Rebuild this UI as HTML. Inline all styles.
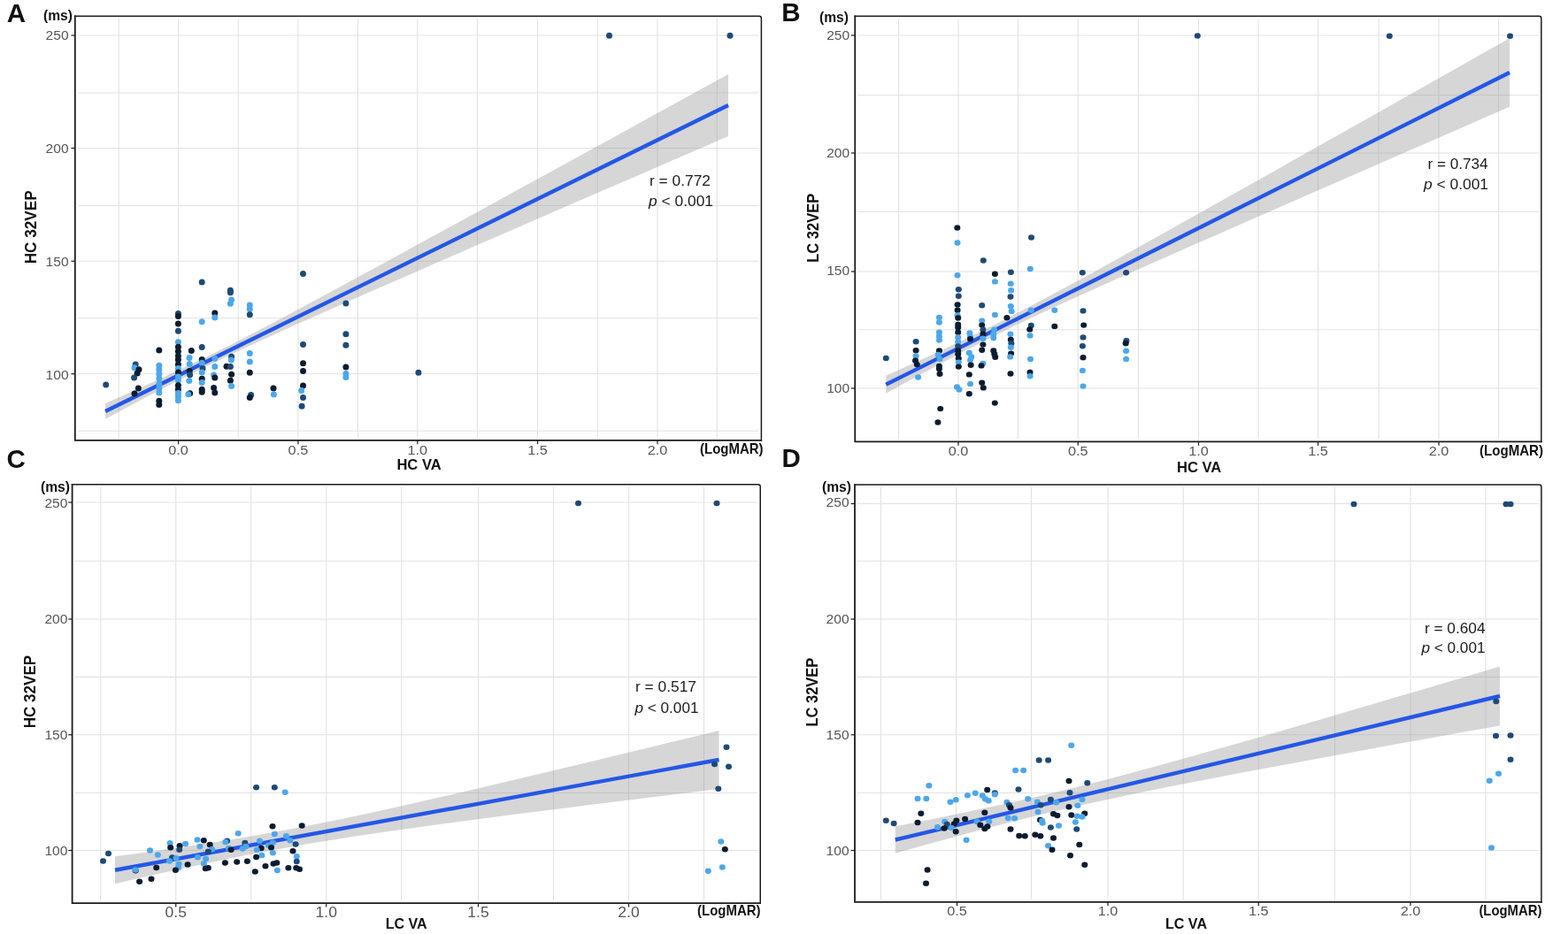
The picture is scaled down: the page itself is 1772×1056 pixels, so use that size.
<!DOCTYPE html>
<html lang="en"><head><meta charset="utf-8"><title>Figure</title>
<style>
html,body{margin:0;padding:0;background:#fff;}
body{width:1772px;height:1056px;overflow:hidden;}
svg{display:block;}
text{font-family:"Liberation Sans",Arial,Helvetica,sans-serif;}
.pl{font-weight:700;font-size:29.5px;fill:#111;}
.tk{font-size:14.3px;fill:#555555;}
.bt{font-weight:700;fill:#111;}
.st{fill:#1a1a1a;}
.g line{stroke:#e2e2e2;stroke-width:1.1;}
.dd{fill:#0b1c30;}.dm{fill:#1f4a75;}.dl{fill:#4da7ea;}
</style></head><body>
<svg width="1772" height="1056" viewBox="0 0 1772 1056">
<rect x="0" y="0" width="1772" height="1056" fill="#ffffff"/>
<g id="panel-A">
<rect x="84.8" y="18.3" width="775.6" height="479.5" fill="#fff"/>
<g class="g">
<line x1="134.2" y1="21.3" x2="134.2" y2="494.8"/>
<line x1="201.6" y1="21.3" x2="201.6" y2="494.8"/>
<line x1="269.2" y1="21.3" x2="269.2" y2="494.8"/>
<line x1="336.9" y1="21.3" x2="336.9" y2="494.8"/>
<line x1="404.4" y1="21.3" x2="404.4" y2="494.8"/>
<line x1="471.8" y1="21.3" x2="471.8" y2="494.8"/>
<line x1="539.5" y1="21.3" x2="539.5" y2="494.8"/>
<line x1="607.5" y1="21.3" x2="607.5" y2="494.8"/>
<line x1="675.3" y1="21.3" x2="675.3" y2="494.8"/>
<line x1="743" y1="21.3" x2="743" y2="494.8"/>
<line x1="810.3" y1="21.3" x2="810.3" y2="494.8"/>
<line x1="87.8" y1="40" x2="857.4" y2="40"/>
<line x1="87.8" y1="105" x2="857.4" y2="105"/>
<line x1="87.8" y1="167.5" x2="857.4" y2="167.5"/>
<line x1="87.8" y1="232.5" x2="857.4" y2="232.5"/>
<line x1="87.8" y1="295.25" x2="857.4" y2="295.25"/>
<line x1="87.8" y1="359.75" x2="857.4" y2="359.75"/>
<line x1="87.8" y1="422.75" x2="857.4" y2="422.75"/>
<line x1="87.8" y1="487.25" x2="857.4" y2="487.25"/>
</g>
<polygon fill="#999999" fill-opacity="0.4" points="119.1,456.24 148.43,443.11 177.76,429.77 207.09,416.09 236.42,401.93 265.75,387.24 295.07,372.07 324.4,356.58 353.73,340.87 383.06,325.03 412.39,309.11 441.72,293.13 471.05,277.12 500.38,261.08 529.71,245.02 559.04,228.94 588.37,212.85 617.7,196.76 647.02,180.66 676.35,164.55 705.68,148.43 735.01,132.32 764.34,116.2 793.67,100.07 823,83.95 823,154.05 793.67,166.76 764.34,179.47 735.01,192.18 705.68,204.9 676.35,217.62 647.02,230.34 617.7,243.08 588.37,255.81 559.04,268.56 529.71,281.32 500.38,294.09 471.05,306.88 441.72,319.7 412.39,332.56 383.06,345.47 353.73,358.46 324.4,371.59 295.07,384.93 265.75,398.59 236.42,412.73 207.09,427.41 177.76,442.57 148.43,458.06 119.1,473.76"/>
<line x1="119.1" y1="465" x2="823" y2="119" stroke="#2457e6" stroke-width="4.4"/>
<g class="d">
<ellipse class="dm" cx="688.5" cy="40.3" rx="3.5" ry="3.5"/>
<ellipse class="dm" cx="825" cy="40.3" rx="3.5" ry="3.5"/>
<ellipse class="dm" cx="119.7" cy="434.9" rx="3.5" ry="3.5"/>
<ellipse class="dm" cx="153.2" cy="412" rx="3.5" ry="3.5"/>
<ellipse class="dl" cx="152" cy="415.8" rx="3.5" ry="3.5"/>
<ellipse class="dd" cx="157" cy="417.7" rx="3.5" ry="3.5"/>
<ellipse class="dd" cx="155.1" cy="422.1" rx="3.5" ry="3.5"/>
<ellipse class="dm" cx="151.6" cy="427" rx="3.5" ry="3.5"/>
<ellipse class="dd" cx="156.4" cy="438.9" rx="3.5" ry="3.5"/>
<ellipse class="dd" cx="152" cy="444.9" rx="3.5" ry="3.5"/>
<ellipse class="dd" cx="179.8" cy="396" rx="3.5" ry="3.5"/>
<ellipse class="dl" cx="179.8" cy="413.3" rx="3.5" ry="3.5"/>
<ellipse class="dl" cx="179.8" cy="417.7" rx="3.5" ry="3.5"/>
<ellipse class="dl" cx="179.8" cy="422.7" rx="3.5" ry="3.5"/>
<ellipse class="dl" cx="179.8" cy="428" rx="3.5" ry="3.5"/>
<ellipse class="dl" cx="179.8" cy="433.9" rx="3.5" ry="3.5"/>
<ellipse class="dl" cx="179.8" cy="438.9" rx="3.5" ry="3.5"/>
<ellipse class="dl" cx="179.8" cy="443.9" rx="3.5" ry="3.5"/>
<ellipse class="dd" cx="179.8" cy="453.3" rx="3.5" ry="3.5"/>
<ellipse class="dd" cx="179.8" cy="457.4" rx="3.5" ry="3.5"/>
<ellipse class="dm" cx="201.4" cy="354.5" rx="3.5" ry="3.5"/>
<ellipse class="dd" cx="201.4" cy="357.6" rx="3.5" ry="3.5"/>
<ellipse class="dd" cx="201.4" cy="366" rx="3.5" ry="3.5"/>
<ellipse class="dm" cx="201.4" cy="374.2" rx="3.5" ry="3.5"/>
<ellipse class="dl" cx="201.4" cy="386.8" rx="3.5" ry="3.5"/>
<ellipse class="dd" cx="201.4" cy="392.3" rx="3.5" ry="3.5"/>
<ellipse class="dd" cx="201.4" cy="397.3" rx="3.5" ry="3.5"/>
<ellipse class="dd" cx="201.4" cy="402.4" rx="3.5" ry="3.5"/>
<ellipse class="dd" cx="201.4" cy="406.7" rx="3.5" ry="3.5"/>
<ellipse class="dd" cx="201.4" cy="412.1" rx="3.5" ry="3.5"/>
<ellipse class="dl" cx="201.4" cy="416.4" rx="3.5" ry="3.5"/>
<ellipse class="dd" cx="201.4" cy="420.9" rx="3.5" ry="3.5"/>
<ellipse class="dl" cx="201.4" cy="426" rx="3.5" ry="3.5"/>
<ellipse class="dl" cx="201.4" cy="430.1" rx="3.5" ry="3.5"/>
<ellipse class="dd" cx="201.4" cy="435.8" rx="3.5" ry="3.5"/>
<ellipse class="dd" cx="201.4" cy="440.2" rx="3.5" ry="3.5"/>
<ellipse class="dl" cx="201.4" cy="444.5" rx="3.5" ry="3.5"/>
<ellipse class="dl" cx="201.4" cy="448.3" rx="3.5" ry="3.5"/>
<ellipse class="dl" cx="201.4" cy="452.7" rx="3.5" ry="3.5"/>
<ellipse class="dd" cx="216.3" cy="396.6" rx="3.5" ry="3.5"/>
<ellipse class="dl" cx="214" cy="404.5" rx="3.5" ry="3.5"/>
<ellipse class="dl" cx="214.2" cy="411.4" rx="3.5" ry="3.5"/>
<ellipse class="dd" cx="214.2" cy="419.6" rx="3.5" ry="3.5"/>
<ellipse class="dm" cx="214.6" cy="423.7" rx="3.5" ry="3.5"/>
<ellipse class="dl" cx="213.8" cy="430.5" rx="3.5" ry="3.5"/>
<ellipse class="dd" cx="214.6" cy="444.8" rx="3.5" ry="3.5"/>
<ellipse class="dl" cx="212.8" cy="445.8" rx="3.5" ry="3.5"/>
<ellipse class="dm" cx="228.2" cy="319" rx="3.5" ry="3.5"/>
<ellipse class="dl" cx="228.2" cy="363.7" rx="3.5" ry="3.5"/>
<ellipse class="dm" cx="228.2" cy="392.4" rx="3.5" ry="3.5"/>
<ellipse class="dd" cx="228.2" cy="406.4" rx="3.5" ry="3.5"/>
<ellipse class="dl" cx="228.2" cy="410.2" rx="3.5" ry="3.5"/>
<ellipse class="dm" cx="229" cy="416.4" rx="3.5" ry="3.5"/>
<ellipse class="dl" cx="228.2" cy="420.9" rx="3.5" ry="3.5"/>
<ellipse class="dd" cx="228.2" cy="428.3" rx="3.5" ry="3.5"/>
<ellipse class="dl" cx="228.2" cy="432.6" rx="3.5" ry="3.5"/>
<ellipse class="dd" cx="228.2" cy="440.2" rx="3.5" ry="3.5"/>
<ellipse class="dd" cx="228.2" cy="443.3" rx="3.5" ry="3.5"/>
<ellipse class="dd" cx="242.8" cy="354.1" rx="3.5" ry="3.5"/>
<ellipse class="dl" cx="242.8" cy="359.1" rx="3.5" ry="3.5"/>
<ellipse class="dl" cx="242.8" cy="405.2" rx="3.5" ry="3.5"/>
<ellipse class="dl" cx="242.8" cy="414.6" rx="3.5" ry="3.5"/>
<ellipse class="dl" cx="241.6" cy="424" rx="3.5" ry="3.5"/>
<ellipse class="dd" cx="242.8" cy="426.9" rx="3.5" ry="3.5"/>
<ellipse class="dd" cx="241.6" cy="438.6" rx="3.5" ry="3.5"/>
<ellipse class="dd" cx="242.8" cy="443.9" rx="3.5" ry="3.5"/>
<ellipse class="dm" cx="260.4" cy="328.2" rx="3.5" ry="3.5"/>
<ellipse class="dm" cx="260.4" cy="330.7" rx="3.5" ry="3.5"/>
<ellipse class="dl" cx="261.6" cy="339.1" rx="3.5" ry="3.5"/>
<ellipse class="dl" cx="260.4" cy="343.2" rx="3.5" ry="3.5"/>
<ellipse class="dm" cx="261.6" cy="403.3" rx="3.5" ry="3.5"/>
<ellipse class="dl" cx="261.4" cy="407" rx="3.5" ry="3.5"/>
<ellipse class="dd" cx="256" cy="414.2" rx="3.5" ry="3.5"/>
<ellipse class="dm" cx="260.4" cy="414.6" rx="3.5" ry="3.5"/>
<ellipse class="dd" cx="261.6" cy="423.3" rx="3.5" ry="3.5"/>
<ellipse class="dd" cx="260.4" cy="430.2" rx="3.5" ry="3.5"/>
<ellipse class="dl" cx="261.6" cy="436.4" rx="3.5" ry="3.5"/>
<ellipse class="dl" cx="282.3" cy="345.1" rx="3.5" ry="3.5"/>
<ellipse class="dl" cx="282.3" cy="349.5" rx="3.5" ry="3.5"/>
<ellipse class="dm" cx="282.3" cy="355.8" rx="3.5" ry="3.5"/>
<ellipse class="dl" cx="282.3" cy="399.5" rx="3.5" ry="3.5"/>
<ellipse class="dl" cx="282.3" cy="408.9" rx="3.5" ry="3.5"/>
<ellipse class="dd" cx="282.3" cy="421.2" rx="3.5" ry="3.5"/>
<ellipse class="dm" cx="283.6" cy="446.4" rx="3.5" ry="3.5"/>
<ellipse class="dd" cx="282.3" cy="449.5" rx="3.5" ry="3.5"/>
<ellipse class="dd" cx="309" cy="438.9" rx="3.5" ry="3.5"/>
<ellipse class="dl" cx="309.4" cy="445.9" rx="3.5" ry="3.5"/>
<ellipse class="dm" cx="342.5" cy="309.4" rx="3.5" ry="3.5"/>
<ellipse class="dm" cx="342.5" cy="389.5" rx="3.5" ry="3.5"/>
<ellipse class="dd" cx="342.5" cy="410.7" rx="3.5" ry="3.5"/>
<ellipse class="dd" cx="342.5" cy="419.4" rx="3.5" ry="3.5"/>
<ellipse class="dd" cx="342.5" cy="436.1" rx="3.5" ry="3.5"/>
<ellipse class="dl" cx="340.7" cy="441.4" rx="3.5" ry="3.5"/>
<ellipse class="dm" cx="342.5" cy="449.5" rx="3.5" ry="3.5"/>
<ellipse class="dm" cx="341.1" cy="459.2" rx="3.5" ry="3.5"/>
<ellipse class="dm" cx="390.9" cy="343" rx="3.5" ry="3.5"/>
<ellipse class="dm" cx="390.9" cy="377.7" rx="3.5" ry="3.5"/>
<ellipse class="dm" cx="390.9" cy="390.2" rx="3.5" ry="3.5"/>
<ellipse class="dd" cx="390.9" cy="415.1" rx="3.5" ry="3.5"/>
<ellipse class="dl" cx="390.9" cy="422.4" rx="3.5" ry="3.5"/>
<ellipse class="dl" cx="390.9" cy="426.6" rx="3.5" ry="3.5"/>
<ellipse class="dm" cx="472.9" cy="421.2" rx="3.5" ry="3.5"/>
</g>
<path d="M83.9 18.3 H857.9 Q860.4 18.3 860.4 20.8 V498.7" fill="none" stroke="#1c1c1c" stroke-width="1.5" stroke-linejoin="miter"/>
<path d="M84.8 17.55 V497.8 H861.15" fill="none" stroke="#1c1c1c" stroke-width="1.8" stroke-linejoin="miter"/>
<line x1="80.4" y1="40" x2="84.8" y2="40" stroke="#1c1c1c" stroke-width="1.2"/>
<text class="tk" x="77.6" y="45.4" text-anchor="end" textLength="26" lengthAdjust="spacingAndGlyphs">250</text>
<line x1="80.4" y1="167.5" x2="84.8" y2="167.5" stroke="#1c1c1c" stroke-width="1.2"/>
<text class="tk" x="77.6" y="173.15" text-anchor="end" textLength="26" lengthAdjust="spacingAndGlyphs">200</text>
<line x1="80.4" y1="295.25" x2="84.8" y2="295.25" stroke="#1c1c1c" stroke-width="1.2"/>
<text class="tk" x="77.6" y="300.9" text-anchor="end" textLength="26" lengthAdjust="spacingAndGlyphs">150</text>
<line x1="80.4" y1="422.75" x2="84.8" y2="422.75" stroke="#1c1c1c" stroke-width="1.2"/>
<text class="tk" x="77.6" y="428.65" text-anchor="end" textLength="26" lengthAdjust="spacingAndGlyphs">100</text>
<line x1="201.6" y1="497.8" x2="201.6" y2="502.2" stroke="#1c1c1c" stroke-width="1.2"/>
<text class="tk" x="201.6" y="513.6" text-anchor="middle" font-size="14.3" style="font-size:14.3px" textLength="22.6" lengthAdjust="spacingAndGlyphs">0.0</text>
<line x1="336.9" y1="497.8" x2="336.9" y2="502.2" stroke="#1c1c1c" stroke-width="1.2"/>
<text class="tk" x="336.9" y="513.6" text-anchor="middle" font-size="14.3" style="font-size:14.3px" textLength="22.6" lengthAdjust="spacingAndGlyphs">0.5</text>
<line x1="471.8" y1="497.8" x2="471.8" y2="502.2" stroke="#1c1c1c" stroke-width="1.2"/>
<text class="tk" x="471.8" y="513.6" text-anchor="middle" font-size="14.3" style="font-size:14.3px" textLength="22.6" lengthAdjust="spacingAndGlyphs">1.0</text>
<line x1="607.5" y1="497.8" x2="607.5" y2="502.2" stroke="#1c1c1c" stroke-width="1.2"/>
<text class="tk" x="607.5" y="513.6" text-anchor="middle" font-size="14.3" style="font-size:14.3px" textLength="22.6" lengthAdjust="spacingAndGlyphs">1.5</text>
<line x1="743" y1="497.8" x2="743" y2="502.2" stroke="#1c1c1c" stroke-width="1.2"/>
<text class="tk" x="743" y="513.6" text-anchor="middle" font-size="14.3" style="font-size:14.3px" textLength="22.6" lengthAdjust="spacingAndGlyphs">2.0</text>
<text class="pl" x="7.8" y="24.8">A</text>
<text class="bt" x="49" y="23.1" font-size="16" textLength="33" lengthAdjust="spacingAndGlyphs">(ms)</text>
<text class="bt" x="41.4" y="298.3" font-size="17.9" textLength="83" lengthAdjust="spacingAndGlyphs" transform="rotate(-90 41.4 298.3)">HC 32VEP</text>
<text class="bt" x="448.4" y="530.7" font-size="16.4" textLength="50.3" lengthAdjust="spacingAndGlyphs">HC VA</text>
<text class="bt" x="791" y="513.1" font-size="16.2" textLength="71.5" lengthAdjust="spacingAndGlyphs">(LogMAR)</text>
<text class="st" x="734" y="209.5" font-size="16" textLength="69" lengthAdjust="spacingAndGlyphs">r = 0.772</text>
<text class="st" x="733" y="233" font-size="16" textLength="73" lengthAdjust="spacingAndGlyphs"><tspan font-style="italic">p</tspan> &lt; 0.001</text>
</g>
<g id="panel-B">
<rect x="966.25" y="18.3" width="775.55" height="481.1" fill="#fff"/>
<g class="g">
<line x1="1015.5" y1="21.3" x2="1015.5" y2="496.4"/>
<line x1="1083" y1="21.3" x2="1083" y2="496.4"/>
<line x1="1150.5" y1="21.3" x2="1150.5" y2="496.4"/>
<line x1="1218.25" y1="21.3" x2="1218.25" y2="496.4"/>
<line x1="1286.4" y1="21.3" x2="1286.4" y2="496.4"/>
<line x1="1354.5" y1="21.3" x2="1354.5" y2="496.4"/>
<line x1="1422" y1="21.3" x2="1422" y2="496.4"/>
<line x1="1489.5" y1="21.3" x2="1489.5" y2="496.4"/>
<line x1="1558" y1="21.3" x2="1558" y2="496.4"/>
<line x1="1626" y1="21.3" x2="1626" y2="496.4"/>
<line x1="1693.5" y1="21.3" x2="1693.5" y2="496.4"/>
<line x1="969.25" y1="40" x2="1738.8" y2="40"/>
<line x1="969.25" y1="107.5" x2="1738.8" y2="107.5"/>
<line x1="969.25" y1="173" x2="1738.8" y2="173"/>
<line x1="969.25" y1="239.5" x2="1738.8" y2="239.5"/>
<line x1="969.25" y1="307" x2="1738.8" y2="307"/>
<line x1="969.25" y1="372.75" x2="1738.8" y2="372.75"/>
<line x1="969.25" y1="439" x2="1738.8" y2="439"/>
</g>
<polygon fill="#999999" fill-opacity="0.4" points="1001.25,424.72 1030.61,411.45 1059.98,397.96 1089.34,384.11 1118.71,369.76 1148.07,354.82 1177.44,339.36 1206.8,323.52 1236.17,307.43 1265.53,291.19 1294.9,274.84 1324.26,258.42 1353.62,241.96 1382.99,225.47 1412.35,208.95 1441.72,192.42 1471.08,175.87 1500.45,159.31 1529.81,142.74 1559.18,126.17 1588.54,109.58 1617.91,93 1647.27,76.41 1676.64,59.82 1706,43.22 1706,120.78 1676.64,133.58 1647.27,146.38 1617.91,159.19 1588.54,172 1559.18,184.81 1529.81,197.63 1500.45,210.46 1471.08,223.3 1441.72,236.15 1412.35,249.01 1382.99,261.89 1353.62,274.79 1324.26,287.72 1294.9,300.7 1265.53,313.75 1236.17,326.9 1206.8,340.21 1177.44,353.76 1148.07,367.7 1118.71,382.16 1089.34,397.21 1059.98,412.75 1030.61,428.65 1001.25,444.78"/>
<line x1="1001.25" y1="434.75" x2="1706" y2="82" stroke="#2457e6" stroke-width="4.4"/>
<g class="d">
<ellipse class="dm" cx="1353.3" cy="40.5" rx="3.5" ry="3.2"/>
<ellipse class="dm" cx="1570.3" cy="40.8" rx="3.5" ry="3.2"/>
<ellipse class="dm" cx="1706.5" cy="40.8" rx="3.5" ry="3.2"/>
<ellipse class="dm" cx="1001.3" cy="404.9" rx="3.5" ry="3.2"/>
<ellipse class="dm" cx="1035.1" cy="386.2" rx="3.5" ry="3.2"/>
<ellipse class="dd" cx="1035.1" cy="396.2" rx="3.5" ry="3.2"/>
<ellipse class="dl" cx="1035.1" cy="402.7" rx="3.5" ry="3.2"/>
<ellipse class="dd" cx="1034.5" cy="407.7" rx="3.5" ry="3.2"/>
<ellipse class="dd" cx="1036.3" cy="412.1" rx="3.5" ry="3.2"/>
<ellipse class="dl" cx="1037.6" cy="426.5" rx="3.5" ry="3.2"/>
<ellipse class="dl" cx="1061.4" cy="358.9" rx="3.5" ry="3.2"/>
<ellipse class="dl" cx="1061.4" cy="364.5" rx="3.5" ry="3.2"/>
<ellipse class="dl" cx="1061.4" cy="375.8" rx="3.5" ry="3.2"/>
<ellipse class="dl" cx="1061.4" cy="380.2" rx="3.5" ry="3.2"/>
<ellipse class="dl" cx="1061.4" cy="384.6" rx="3.5" ry="3.2"/>
<ellipse class="dd" cx="1061.4" cy="396.5" rx="3.5" ry="3.2"/>
<ellipse class="dl" cx="1060.2" cy="400.9" rx="3.5" ry="3.2"/>
<ellipse class="dl" cx="1062" cy="405.9" rx="3.5" ry="3.2"/>
<ellipse class="dd" cx="1061.4" cy="414" rx="3.5" ry="3.2"/>
<ellipse class="dd" cx="1061.4" cy="417.1" rx="3.5" ry="3.2"/>
<ellipse class="dd" cx="1062" cy="422.8" rx="3.5" ry="3.2"/>
<ellipse class="dd" cx="1062.7" cy="462.1" rx="3.5" ry="3.2"/>
<ellipse class="dd" cx="1059.9" cy="477.5" rx="3.5" ry="3.2"/>
<ellipse class="dd" cx="1081.8" cy="257.5" rx="3.5" ry="3.2"/>
<ellipse class="dl" cx="1082" cy="274.5" rx="3.5" ry="3.2"/>
<ellipse class="dl" cx="1082" cy="311.2" rx="3.5" ry="3.2"/>
<ellipse class="dm" cx="1083.3" cy="327.2" rx="3.5" ry="3.2"/>
<ellipse class="dm" cx="1083.3" cy="334.8" rx="3.5" ry="3.2"/>
<ellipse class="dd" cx="1082.1" cy="344.5" rx="3.5" ry="3.2"/>
<ellipse class="dd" cx="1082.1" cy="350.7" rx="3.5" ry="3.2"/>
<ellipse class="dl" cx="1082.1" cy="356.4" rx="3.5" ry="3.2"/>
<ellipse class="dd" cx="1082.7" cy="359.5" rx="3.5" ry="3.2"/>
<ellipse class="dd" cx="1082.7" cy="367" rx="3.5" ry="3.2"/>
<ellipse class="dd" cx="1082.7" cy="370.2" rx="3.5" ry="3.2"/>
<ellipse class="dd" cx="1082.7" cy="375.8" rx="3.5" ry="3.2"/>
<ellipse class="dl" cx="1082.7" cy="381.4" rx="3.5" ry="3.2"/>
<ellipse class="dl" cx="1082.7" cy="386.4" rx="3.5" ry="3.2"/>
<ellipse class="dm" cx="1082.7" cy="391.5" rx="3.5" ry="3.2"/>
<ellipse class="dd" cx="1082.7" cy="396.5" rx="3.5" ry="3.2"/>
<ellipse class="dd" cx="1082.7" cy="400.2" rx="3.5" ry="3.2"/>
<ellipse class="dd" cx="1083.3" cy="405.2" rx="3.5" ry="3.2"/>
<ellipse class="dl" cx="1083.3" cy="409.6" rx="3.5" ry="3.2"/>
<ellipse class="dd" cx="1083.3" cy="414.6" rx="3.5" ry="3.2"/>
<ellipse class="dl" cx="1081.5" cy="437.5" rx="3.5" ry="3.2"/>
<ellipse class="dl" cx="1083.9" cy="440.5" rx="3.5" ry="3.2"/>
<ellipse class="dl" cx="1095.9" cy="376.4" rx="3.5" ry="3.2"/>
<ellipse class="dl" cx="1096.5" cy="380.8" rx="3.5" ry="3.2"/>
<ellipse class="dd" cx="1096.5" cy="383.3" rx="3.5" ry="3.2"/>
<ellipse class="dl" cx="1095.3" cy="399" rx="3.5" ry="3.2"/>
<ellipse class="dl" cx="1097.8" cy="403.4" rx="3.5" ry="3.2"/>
<ellipse class="dl" cx="1096.5" cy="407.1" rx="3.5" ry="3.2"/>
<ellipse class="dd" cx="1097.1" cy="412.8" rx="3.5" ry="3.2"/>
<ellipse class="dd" cx="1095.3" cy="423.4" rx="3.5" ry="3.2"/>
<ellipse class="dl" cx="1096.5" cy="434.1" rx="3.5" ry="3.2"/>
<ellipse class="dd" cx="1095.3" cy="445.2" rx="3.5" ry="3.2"/>
<ellipse class="dm" cx="1111.3" cy="294.5" rx="3.5" ry="3.2"/>
<ellipse class="dm" cx="1109.7" cy="345.3" rx="3.5" ry="3.2"/>
<ellipse class="dl" cx="1109.7" cy="362.6" rx="3.5" ry="3.2"/>
<ellipse class="dd" cx="1109.7" cy="367.6" rx="3.5" ry="3.2"/>
<ellipse class="dm" cx="1110.9" cy="372.7" rx="3.5" ry="3.2"/>
<ellipse class="dd" cx="1110.9" cy="377.7" rx="3.5" ry="3.2"/>
<ellipse class="dl" cx="1110.9" cy="382.7" rx="3.5" ry="3.2"/>
<ellipse class="dd" cx="1110.9" cy="389.6" rx="3.5" ry="3.2"/>
<ellipse class="dd" cx="1109.7" cy="395.8" rx="3.5" ry="3.2"/>
<ellipse class="dl" cx="1110.9" cy="410.9" rx="3.5" ry="3.2"/>
<ellipse class="dd" cx="1109" cy="413.4" rx="3.5" ry="3.2"/>
<ellipse class="dd" cx="1109.7" cy="432.7" rx="3.5" ry="3.2"/>
<ellipse class="dd" cx="1111.3" cy="438.4" rx="3.5" ry="3.2"/>
<ellipse class="dd" cx="1124.4" cy="309.7" rx="3.5" ry="3.2"/>
<ellipse class="dl" cx="1124.4" cy="318.4" rx="3.5" ry="3.2"/>
<ellipse class="dl" cx="1124.4" cy="356" rx="3.5" ry="3.2"/>
<ellipse class="dl" cx="1123.5" cy="372.7" rx="3.5" ry="3.2"/>
<ellipse class="dl" cx="1122.8" cy="377.7" rx="3.5" ry="3.2"/>
<ellipse class="dl" cx="1122.8" cy="382.1" rx="3.5" ry="3.2"/>
<ellipse class="dd" cx="1122.8" cy="396.5" rx="3.5" ry="3.2"/>
<ellipse class="dd" cx="1123.8" cy="400.2" rx="3.5" ry="3.2"/>
<ellipse class="dd" cx="1124.7" cy="403.7" rx="3.5" ry="3.2"/>
<ellipse class="dd" cx="1124.3" cy="455.6" rx="3.5" ry="3.2"/>
<ellipse class="dm" cx="1142.4" cy="307.8" rx="3.5" ry="3.2"/>
<ellipse class="dl" cx="1142.2" cy="320.7" rx="3.5" ry="3.2"/>
<ellipse class="dl" cx="1142.6" cy="328.3" rx="3.5" ry="3.2"/>
<ellipse class="dm" cx="1142" cy="335.5" rx="3.5" ry="3.2"/>
<ellipse class="dl" cx="1142.3" cy="346.3" rx="3.5" ry="3.2"/>
<ellipse class="dl" cx="1143.1" cy="352" rx="3.5" ry="3.2"/>
<ellipse class="dd" cx="1137.9" cy="359.2" rx="3.5" ry="3.2"/>
<ellipse class="dl" cx="1141.9" cy="377.7" rx="3.5" ry="3.2"/>
<ellipse class="dd" cx="1142.3" cy="383.9" rx="3.5" ry="3.2"/>
<ellipse class="dm" cx="1142.9" cy="388.3" rx="3.5" ry="3.2"/>
<ellipse class="dl" cx="1142.3" cy="392.7" rx="3.5" ry="3.2"/>
<ellipse class="dd" cx="1142.6" cy="399.6" rx="3.5" ry="3.2"/>
<ellipse class="dl" cx="1141.6" cy="403.4" rx="3.5" ry="3.2"/>
<ellipse class="dd" cx="1142" cy="422.5" rx="3.5" ry="3.2"/>
<ellipse class="dm" cx="1165.5" cy="268.5" rx="3.5" ry="3.2"/>
<ellipse class="dl" cx="1164.3" cy="304" rx="3.5" ry="3.2"/>
<ellipse class="dl" cx="1165.2" cy="350.7" rx="3.5" ry="3.2"/>
<ellipse class="dm" cx="1165.3" cy="367.9" rx="3.5" ry="3.2"/>
<ellipse class="dd" cx="1163.7" cy="372.4" rx="3.5" ry="3.2"/>
<ellipse class="dl" cx="1164.1" cy="379.4" rx="3.5" ry="3.2"/>
<ellipse class="dl" cx="1164.5" cy="405.9" rx="3.5" ry="3.2"/>
<ellipse class="dd" cx="1164" cy="420.9" rx="3.5" ry="3.2"/>
<ellipse class="dl" cx="1164.1" cy="425.3" rx="3.5" ry="3.2"/>
<ellipse class="dl" cx="1191.8" cy="350.7" rx="3.5" ry="3.2"/>
<ellipse class="dd" cx="1191.8" cy="368.9" rx="3.5" ry="3.2"/>
<ellipse class="dm" cx="1223.3" cy="308.3" rx="3.5" ry="3.2"/>
<ellipse class="dm" cx="1224" cy="351.4" rx="3.5" ry="3.2"/>
<ellipse class="dd" cx="1224.7" cy="367.6" rx="3.5" ry="3.2"/>
<ellipse class="dm" cx="1224" cy="381.4" rx="3.5" ry="3.2"/>
<ellipse class="dm" cx="1223.4" cy="391.2" rx="3.5" ry="3.2"/>
<ellipse class="dd" cx="1224" cy="404.2" rx="3.5" ry="3.2"/>
<ellipse class="dl" cx="1223.4" cy="419" rx="3.5" ry="3.2"/>
<ellipse class="dl" cx="1224" cy="436.6" rx="3.5" ry="3.2"/>
<ellipse class="dm" cx="1272.6" cy="308.3" rx="3.5" ry="3.2"/>
<ellipse class="dm" cx="1272.9" cy="385.2" rx="3.5" ry="3.2"/>
<ellipse class="dd" cx="1272.2" cy="388.3" rx="3.5" ry="3.2"/>
<ellipse class="dl" cx="1272.6" cy="396.8" rx="3.5" ry="3.2"/>
<ellipse class="dl" cx="1272.6" cy="405.9" rx="3.5" ry="3.2"/>
</g>
<path d="M965.35 18.3 H1739.3 Q1741.8 18.3 1741.8 20.8 V500.3" fill="none" stroke="#1c1c1c" stroke-width="1.5" stroke-linejoin="miter"/>
<path d="M966.25 17.55 V499.4 H1742.55" fill="none" stroke="#1c1c1c" stroke-width="1.8" stroke-linejoin="miter"/>
<line x1="961.85" y1="40" x2="966.25" y2="40" stroke="#1c1c1c" stroke-width="1.2"/>
<text class="tk" x="960.2" y="45.4" text-anchor="end" textLength="26" lengthAdjust="spacingAndGlyphs">250</text>
<line x1="961.85" y1="173" x2="966.25" y2="173" stroke="#1c1c1c" stroke-width="1.2"/>
<text class="tk" x="960.2" y="178.15" text-anchor="end" textLength="26" lengthAdjust="spacingAndGlyphs">200</text>
<line x1="961.85" y1="307" x2="966.25" y2="307" stroke="#1c1c1c" stroke-width="1.2"/>
<text class="tk" x="960.2" y="310.9" text-anchor="end" textLength="26" lengthAdjust="spacingAndGlyphs">150</text>
<line x1="961.85" y1="439" x2="966.25" y2="439" stroke="#1c1c1c" stroke-width="1.2"/>
<text class="tk" x="960.2" y="443.65" text-anchor="end" textLength="26" lengthAdjust="spacingAndGlyphs">100</text>
<line x1="1083" y1="499.4" x2="1083" y2="503.8" stroke="#1c1c1c" stroke-width="1.2"/>
<text class="tk" x="1083" y="514.8" text-anchor="middle" font-size="14.3" style="font-size:14.3px" textLength="22.6" lengthAdjust="spacingAndGlyphs">0.0</text>
<line x1="1218.25" y1="499.4" x2="1218.25" y2="503.8" stroke="#1c1c1c" stroke-width="1.2"/>
<text class="tk" x="1218.25" y="514.8" text-anchor="middle" font-size="14.3" style="font-size:14.3px" textLength="22.6" lengthAdjust="spacingAndGlyphs">0.5</text>
<line x1="1354.5" y1="499.4" x2="1354.5" y2="503.8" stroke="#1c1c1c" stroke-width="1.2"/>
<text class="tk" x="1354.5" y="514.8" text-anchor="middle" font-size="14.3" style="font-size:14.3px" textLength="22.6" lengthAdjust="spacingAndGlyphs">1.0</text>
<line x1="1489.5" y1="499.4" x2="1489.5" y2="503.8" stroke="#1c1c1c" stroke-width="1.2"/>
<text class="tk" x="1489.5" y="514.8" text-anchor="middle" font-size="14.3" style="font-size:14.3px" textLength="22.6" lengthAdjust="spacingAndGlyphs">1.5</text>
<line x1="1626" y1="499.4" x2="1626" y2="503.8" stroke="#1c1c1c" stroke-width="1.2"/>
<text class="tk" x="1626" y="514.8" text-anchor="middle" font-size="14.3" style="font-size:14.3px" textLength="22.6" lengthAdjust="spacingAndGlyphs">2.0</text>
<text class="pl" x="883.2" y="24.2">B</text>
<text class="bt" x="926" y="24.5" font-size="16" textLength="33" lengthAdjust="spacingAndGlyphs">(ms)</text>
<text class="bt" x="924.9" y="296.8" font-size="18" textLength="78" lengthAdjust="spacingAndGlyphs" transform="rotate(-90 924.9 296.8)">LC 32VEP</text>
<text class="bt" x="1330" y="533.7" font-size="16.2" textLength="50.3" lengthAdjust="spacingAndGlyphs">HC VA</text>
<text class="bt" x="1672" y="514.9" font-size="16.2" textLength="72" lengthAdjust="spacingAndGlyphs">(LogMAR)</text>
<text class="st" x="1613.5" y="190.5" font-size="16" textLength="68" lengthAdjust="spacingAndGlyphs">r = 0.734</text>
<text class="st" x="1609" y="214" font-size="16" textLength="73" lengthAdjust="spacingAndGlyphs"><tspan font-style="italic">p</tspan> &lt; 0.001</text>
</g>
<g id="panel-C">
<rect x="81.6" y="547.7" width="777.65" height="473.4" fill="#fff"/>
<g class="g">
<line x1="113.75" y1="550.7" x2="113.75" y2="1018.1"/>
<line x1="198.75" y1="550.7" x2="198.75" y2="1018.1"/>
<line x1="283.75" y1="550.7" x2="283.75" y2="1018.1"/>
<line x1="368.75" y1="550.7" x2="368.75" y2="1018.1"/>
<line x1="453.75" y1="550.7" x2="453.75" y2="1018.1"/>
<line x1="540.5" y1="550.7" x2="540.5" y2="1018.1"/>
<line x1="625.5" y1="550.7" x2="625.5" y2="1018.1"/>
<line x1="710.5" y1="550.7" x2="710.5" y2="1018.1"/>
<line x1="795.5" y1="550.7" x2="795.5" y2="1018.1"/>
<line x1="84.6" y1="568" x2="856.25" y2="568"/>
<line x1="84.6" y1="634.25" x2="856.25" y2="634.25"/>
<line x1="84.6" y1="700" x2="856.25" y2="700"/>
<line x1="84.6" y1="765.4" x2="856.25" y2="765.4"/>
<line x1="84.6" y1="830.75" x2="856.25" y2="830.75"/>
<line x1="84.6" y1="896.5" x2="856.25" y2="896.5"/>
<line x1="84.6" y1="961.5" x2="856.25" y2="961.5"/>
</g>
<polygon fill="#999999" fill-opacity="0.4" points="130,968.36 158.44,964.48 186.88,960.49 215.31,956.34 243.75,951.99 272.19,947.4 300.62,942.52 329.06,937.33 357.5,931.81 385.94,926.01 414.38,919.96 442.81,913.72 471.25,907.32 499.69,900.81 528.12,894.2 556.56,887.53 585,880.81 613.44,874.04 641.88,867.24 670.31,860.41 698.75,853.56 727.19,846.69 755.62,839.81 784.06,832.91 812.5,826.01 812.5,891.99 784.06,895.48 755.62,898.98 727.19,902.5 698.75,906.03 670.31,909.57 641.88,913.14 613.44,916.73 585,920.36 556.56,924.03 528.12,927.75 499.69,931.55 471.25,935.43 442.81,939.43 414.38,943.58 385.94,947.93 357.5,952.52 329.06,957.4 300.62,962.6 272.19,968.12 243.75,973.93 215.31,979.98 186.88,986.22 158.44,992.62 130,999.14"/>
<line x1="130" y1="983.75" x2="812.5" y2="859" stroke="#2457e6" stroke-width="4.4"/>
<g class="d">
<ellipse class="dm" cx="653.5" cy="569" rx="3.5" ry="3.25"/>
<ellipse class="dm" cx="810" cy="569" rx="3.5" ry="3.25"/>
<ellipse class="dm" cx="821" cy="844.8" rx="3.5" ry="3.25"/>
<ellipse class="dm" cx="807.5" cy="864" rx="3.5" ry="3.25"/>
<ellipse class="dm" cx="823.5" cy="866.8" rx="3.5" ry="3.25"/>
<ellipse class="dm" cx="811.8" cy="891.8" rx="3.5" ry="3.25"/>
<ellipse class="dl" cx="814.8" cy="951.5" rx="3.5" ry="3.25"/>
<ellipse class="dd" cx="819.3" cy="960.3" rx="3.5" ry="3.25"/>
<ellipse class="dl" cx="816.3" cy="980.5" rx="3.5" ry="3.25"/>
<ellipse class="dl" cx="800.3" cy="984.8" rx="3.5" ry="3.25"/>
<ellipse class="dm" cx="122.5" cy="965" rx="3.5" ry="3.25"/>
<ellipse class="dm" cx="116.5" cy="973.4" rx="3.5" ry="3.25"/>
<ellipse class="dl" cx="169.5" cy="961.5" rx="3.5" ry="3.25"/>
<ellipse class="dl" cx="178.3" cy="966.5" rx="3.5" ry="3.25"/>
<ellipse class="dd" cx="153.2" cy="984.2" rx="3.5" ry="3.25"/>
<ellipse class="dl" cx="153.2" cy="983.4" rx="3.5" ry="3.25"/>
<ellipse class="dd" cx="176.7" cy="980.9" rx="3.5" ry="3.25"/>
<ellipse class="dd" cx="157.6" cy="996.8" rx="3.5" ry="3.25"/>
<ellipse class="dd" cx="171" cy="993.8" rx="3.5" ry="3.25"/>
<ellipse class="dl" cx="192.1" cy="953.3" rx="3.5" ry="3.25"/>
<ellipse class="dd" cx="192.7" cy="958.3" rx="3.5" ry="3.25"/>
<ellipse class="dd" cx="203.1" cy="956.2" rx="3.5" ry="3.25"/>
<ellipse class="dm" cx="202.7" cy="960.8" rx="3.5" ry="3.25"/>
<ellipse class="dl" cx="209.6" cy="953.9" rx="3.5" ry="3.25"/>
<ellipse class="dm" cx="194.6" cy="969.6" rx="3.5" ry="3.25"/>
<ellipse class="dl" cx="191.5" cy="973.4" rx="3.5" ry="3.25"/>
<ellipse class="dl" cx="199" cy="970.2" rx="3.5" ry="3.25"/>
<ellipse class="dl" cx="202.1" cy="977.1" rx="3.5" ry="3.25"/>
<ellipse class="dl" cx="201.5" cy="980.9" rx="3.5" ry="3.25"/>
<ellipse class="dd" cx="198.4" cy="983.8" rx="3.5" ry="3.25"/>
<ellipse class="dd" cx="212.1" cy="977.5" rx="3.5" ry="3.25"/>
<ellipse class="dl" cx="223" cy="949.5" rx="3.5" ry="3.25"/>
<ellipse class="dd" cx="230.3" cy="950.2" rx="3.5" ry="3.25"/>
<ellipse class="dd" cx="237.2" cy="954.9" rx="3.5" ry="3.25"/>
<ellipse class="dl" cx="225.9" cy="957.1" rx="3.5" ry="3.25"/>
<ellipse class="dl" cx="239.7" cy="960.2" rx="3.5" ry="3.25"/>
<ellipse class="dm" cx="235.3" cy="962.7" rx="3.5" ry="3.25"/>
<ellipse class="dl" cx="223.4" cy="969.2" rx="3.5" ry="3.25"/>
<ellipse class="dl" cx="232.6" cy="970.9" rx="3.5" ry="3.25"/>
<ellipse class="dl" cx="230.3" cy="976.5" rx="3.5" ry="3.25"/>
<ellipse class="dd" cx="232.2" cy="982.1" rx="3.5" ry="3.25"/>
<ellipse class="dd" cx="235.3" cy="981.2" rx="3.5" ry="3.25"/>
<ellipse class="dm" cx="256.6" cy="950.8" rx="3.5" ry="3.25"/>
<ellipse class="dl" cx="254.8" cy="952" rx="3.5" ry="3.25"/>
<ellipse class="dl" cx="258.5" cy="958.9" rx="3.5" ry="3.25"/>
<ellipse class="dd" cx="261" cy="960.8" rx="3.5" ry="3.25"/>
<ellipse class="dl" cx="269.2" cy="942.3" rx="3.5" ry="3.25"/>
<ellipse class="dd" cx="254.4" cy="975.5" rx="3.5" ry="3.25"/>
<ellipse class="dd" cx="267.7" cy="974.6" rx="3.5" ry="3.25"/>
<ellipse class="dd" cx="279.4" cy="973.7" rx="3.5" ry="3.25"/>
<ellipse class="dm" cx="276.9" cy="952.9" rx="3.5" ry="3.25"/>
<ellipse class="dl" cx="277.9" cy="957.1" rx="3.5" ry="3.25"/>
<ellipse class="dl" cx="274.2" cy="959.6" rx="3.5" ry="3.25"/>
<ellipse class="dm" cx="289.6" cy="890.3" rx="3.5" ry="3.25"/>
<ellipse class="dm" cx="310.3" cy="890.3" rx="3.5" ry="3.25"/>
<ellipse class="dl" cx="322.2" cy="895.7" rx="3.5" ry="3.25"/>
<ellipse class="dd" cx="308" cy="934.3" rx="3.5" ry="3.25"/>
<ellipse class="dd" cx="341.2" cy="933.6" rx="3.5" ry="3.25"/>
<ellipse class="dl" cx="310.3" cy="943" rx="3.5" ry="3.25"/>
<ellipse class="dl" cx="323.4" cy="945.2" rx="3.5" ry="3.25"/>
<ellipse class="dl" cx="327.8" cy="950.2" rx="3.5" ry="3.25"/>
<ellipse class="dm" cx="334.1" cy="954.6" rx="3.5" ry="3.25"/>
<ellipse class="dl" cx="293.4" cy="950.8" rx="3.5" ry="3.25"/>
<ellipse class="dl" cx="308.4" cy="952.7" rx="3.5" ry="3.25"/>
<ellipse class="dl" cx="303.4" cy="955.8" rx="3.5" ry="3.25"/>
<ellipse class="dd" cx="306.5" cy="958.3" rx="3.5" ry="3.25"/>
<ellipse class="dd" cx="295.2" cy="958.9" rx="3.5" ry="3.25"/>
<ellipse class="dl" cx="290.2" cy="960.8" rx="3.5" ry="3.25"/>
<ellipse class="dl" cx="308.4" cy="964.3" rx="3.5" ry="3.25"/>
<ellipse class="dd" cx="331" cy="962.3" rx="3.5" ry="3.25"/>
<ellipse class="dl" cx="295.9" cy="967.1" rx="3.5" ry="3.25"/>
<ellipse class="dd" cx="289.6" cy="969" rx="3.5" ry="3.25"/>
<ellipse class="dl" cx="335.3" cy="968.3" rx="3.5" ry="3.25"/>
<ellipse class="dm" cx="335.3" cy="974" rx="3.5" ry="3.25"/>
<ellipse class="dd" cx="309" cy="976.5" rx="3.5" ry="3.25"/>
<ellipse class="dd" cx="312.8" cy="975.5" rx="3.5" ry="3.25"/>
<ellipse class="dd" cx="300" cy="979.2" rx="3.5" ry="3.25"/>
<ellipse class="dd" cx="288.3" cy="985.6" rx="3.5" ry="3.25"/>
<ellipse class="dl" cx="313.4" cy="984" rx="3.5" ry="3.25"/>
<ellipse class="dd" cx="325.9" cy="981.3" rx="3.5" ry="3.25"/>
<ellipse class="dd" cx="334.7" cy="981.3" rx="3.5" ry="3.25"/>
<ellipse class="dd" cx="338.5" cy="982.8" rx="3.5" ry="3.25"/>
</g>
<path d="M80.7 547.7 H856.75 Q859.25 547.7 859.25 550.2 V1022" fill="none" stroke="#1c1c1c" stroke-width="1.5" stroke-linejoin="miter"/>
<path d="M81.6 546.95 V1021.1 H860" fill="none" stroke="#1c1c1c" stroke-width="1.8" stroke-linejoin="miter"/>
<line x1="77.2" y1="568" x2="81.6" y2="568" stroke="#1c1c1c" stroke-width="1.2"/>
<text class="tk" x="76.4" y="573.75" text-anchor="end" textLength="26" lengthAdjust="spacingAndGlyphs">250</text>
<line x1="77.2" y1="700" x2="81.6" y2="700" stroke="#1c1c1c" stroke-width="1.2"/>
<text class="tk" x="76.4" y="704.83" text-anchor="end" textLength="26" lengthAdjust="spacingAndGlyphs">200</text>
<line x1="77.2" y1="830.75" x2="81.6" y2="830.75" stroke="#1c1c1c" stroke-width="1.2"/>
<text class="tk" x="76.4" y="835.9" text-anchor="end" textLength="26" lengthAdjust="spacingAndGlyphs">150</text>
<line x1="77.2" y1="961.5" x2="81.6" y2="961.5" stroke="#1c1c1c" stroke-width="1.2"/>
<text class="tk" x="76.4" y="966.98" text-anchor="end" textLength="26" lengthAdjust="spacingAndGlyphs">100</text>
<line x1="198.75" y1="1021.1" x2="198.75" y2="1025.5" stroke="#1c1c1c" stroke-width="1.2"/>
<text class="tk" x="198.75" y="1036.8" text-anchor="middle" font-size="15.6" style="font-size:15.6px" textLength="24.4" lengthAdjust="spacingAndGlyphs">0.5</text>
<line x1="368.75" y1="1021.1" x2="368.75" y2="1025.5" stroke="#1c1c1c" stroke-width="1.2"/>
<text class="tk" x="368.75" y="1036.8" text-anchor="middle" font-size="15.6" style="font-size:15.6px" textLength="24.4" lengthAdjust="spacingAndGlyphs">1.0</text>
<line x1="540.5" y1="1021.1" x2="540.5" y2="1025.5" stroke="#1c1c1c" stroke-width="1.2"/>
<text class="tk" x="540.5" y="1036.8" text-anchor="middle" font-size="15.6" style="font-size:15.6px" textLength="24.4" lengthAdjust="spacingAndGlyphs">1.5</text>
<line x1="710.5" y1="1021.1" x2="710.5" y2="1025.5" stroke="#1c1c1c" stroke-width="1.2"/>
<text class="tk" x="710.5" y="1036.8" text-anchor="middle" font-size="15.6" style="font-size:15.6px" textLength="24.4" lengthAdjust="spacingAndGlyphs">2.0</text>
<text class="pl" x="7.4" y="528.6">C</text>
<text class="bt" x="46" y="556" font-size="16" textLength="33" lengthAdjust="spacingAndGlyphs">(ms)</text>
<text class="bt" x="40.4" y="823.3" font-size="18" textLength="82.5" lengthAdjust="spacingAndGlyphs" transform="rotate(-90 40.4 823.3)">HC 32VEP</text>
<text class="bt" x="435.7" y="1049.7" font-size="16.2" textLength="47" lengthAdjust="spacingAndGlyphs">LC VA</text>
<text class="bt" x="788" y="1035.3" font-size="16.2" textLength="71.5" lengthAdjust="spacingAndGlyphs">(LogMAR)</text>
<text class="st" x="718" y="782" font-size="16" textLength="69" lengthAdjust="spacingAndGlyphs">r = 0.517</text>
<text class="st" x="717.5" y="806" font-size="16" textLength="72" lengthAdjust="spacingAndGlyphs"><tspan font-style="italic">p</tspan> &lt; 0.001</text>
</g>
<g id="panel-D">
<rect x="966" y="548.1" width="775.9" height="471.8" fill="#fff"/>
<g class="g">
<line x1="995.5" y1="551.1" x2="995.5" y2="1016.9"/>
<line x1="1080.5" y1="551.1" x2="1080.5" y2="1016.9"/>
<line x1="1165.5" y1="551.1" x2="1165.5" y2="1016.9"/>
<line x1="1252" y1="551.1" x2="1252" y2="1016.9"/>
<line x1="1337.25" y1="551.1" x2="1337.25" y2="1016.9"/>
<line x1="1422.25" y1="551.1" x2="1422.25" y2="1016.9"/>
<line x1="1508.5" y1="551.1" x2="1508.5" y2="1016.9"/>
<line x1="1594" y1="551.1" x2="1594" y2="1016.9"/>
<line x1="1679" y1="551.1" x2="1679" y2="1016.9"/>
<line x1="969" y1="569.5" x2="1738.9" y2="569.5"/>
<line x1="969" y1="634.25" x2="1738.9" y2="634.25"/>
<line x1="969" y1="700" x2="1738.9" y2="700"/>
<line x1="969" y1="765.4" x2="1738.9" y2="765.4"/>
<line x1="969" y1="830.75" x2="1738.9" y2="830.75"/>
<line x1="969" y1="896.5" x2="1738.9" y2="896.5"/>
<line x1="969" y1="961.5" x2="1738.9" y2="961.5"/>
</g>
<polygon fill="#999999" fill-opacity="0.4" points="1011.75,934.21 1040.22,928.65 1068.69,922.97 1097.16,917.11 1125.62,911.05 1154.09,904.75 1182.56,898.17 1211.03,891.3 1239.5,884.14 1267.97,876.73 1296.44,869.1 1324.91,861.3 1353.38,853.35 1381.84,845.3 1410.31,837.16 1438.78,828.95 1467.25,820.69 1495.72,812.39 1524.19,804.05 1552.66,795.69 1581.12,787.3 1609.59,778.89 1638.06,770.47 1666.53,762.04 1695,753.59 1695,820.41 1666.53,825.5 1638.06,830.61 1609.59,835.73 1581.12,840.87 1552.66,846.02 1524.19,851.2 1495.72,856.41 1467.25,861.64 1438.78,866.93 1410.31,872.26 1381.84,877.66 1353.38,883.15 1324.91,888.74 1296.44,894.48 1267.97,900.39 1239.5,906.52 1211.03,912.91 1182.56,919.58 1154.09,926.54 1125.62,933.78 1097.16,941.26 1068.69,948.95 1040.22,956.8 1011.75,964.79"/>
<line x1="1011.75" y1="949.5" x2="1695" y2="787" stroke="#2457e6" stroke-width="4.4"/>
<g class="d">
<ellipse class="dm" cx="1530" cy="570" rx="3.5" ry="3.25"/>
<ellipse class="dm" cx="1702" cy="570" rx="3.5" ry="3.25"/>
<ellipse class="dm" cx="1707" cy="570" rx="3.5" ry="3.25"/>
<ellipse class="dm" cx="1690.8" cy="793" rx="3.5" ry="3.25"/>
<ellipse class="dm" cx="1690.5" cy="832" rx="3.5" ry="3.25"/>
<ellipse class="dm" cx="1707" cy="831.5" rx="3.5" ry="3.25"/>
<ellipse class="dm" cx="1707" cy="858.8" rx="3.5" ry="3.25"/>
<ellipse class="dl" cx="1693.5" cy="874.8" rx="3.5" ry="3.25"/>
<ellipse class="dl" cx="1683.3" cy="882.8" rx="3.5" ry="3.25"/>
<ellipse class="dl" cx="1685.5" cy="958.5" rx="3.5" ry="3.25"/>
<ellipse class="dm" cx="1001.3" cy="927.7" rx="3.5" ry="3.25"/>
<ellipse class="dm" cx="1010.1" cy="930.9" rx="3.5" ry="3.25"/>
<ellipse class="dl" cx="1049.9" cy="888.3" rx="3.5" ry="3.25"/>
<ellipse class="dl" cx="1037" cy="902.9" rx="3.5" ry="3.25"/>
<ellipse class="dl" cx="1046.8" cy="902.9" rx="3.5" ry="3.25"/>
<ellipse class="dd" cx="1040.8" cy="919.7" rx="3.5" ry="3.25"/>
<ellipse class="dd" cx="1037" cy="930" rx="3.5" ry="3.25"/>
<ellipse class="dl" cx="1074" cy="906.7" rx="3.5" ry="3.25"/>
<ellipse class="dl" cx="1080.2" cy="904.3" rx="3.5" ry="3.25"/>
<ellipse class="dl" cx="1093.4" cy="899.2" rx="3.5" ry="3.25"/>
<ellipse class="dl" cx="1102.2" cy="896.7" rx="3.5" ry="3.25"/>
<ellipse class="dd" cx="1115.7" cy="893" rx="3.5" ry="3.25"/>
<ellipse class="dm" cx="1124.3" cy="896.6" rx="3.5" ry="3.25"/>
<ellipse class="dl" cx="1124.3" cy="898.3" rx="3.5" ry="3.25"/>
<ellipse class="dl" cx="1110.3" cy="899.5" rx="3.5" ry="3.25"/>
<ellipse class="dl" cx="1113.4" cy="903.3" rx="3.5" ry="3.25"/>
<ellipse class="dl" cx="1117.2" cy="905.2" rx="3.5" ry="3.25"/>
<ellipse class="dd" cx="1112.8" cy="918.7" rx="3.5" ry="3.25"/>
<ellipse class="dd" cx="1090.6" cy="925.9" rx="3.5" ry="3.25"/>
<ellipse class="dd" cx="1080.9" cy="927.7" rx="3.5" ry="3.25"/>
<ellipse class="dd" cx="1078.3" cy="931.5" rx="3.5" ry="3.25"/>
<ellipse class="dl" cx="1067.7" cy="929" rx="3.5" ry="3.25"/>
<ellipse class="dm" cx="1070.2" cy="932.1" rx="3.5" ry="3.25"/>
<ellipse class="dl" cx="1059.5" cy="935.3" rx="3.5" ry="3.25"/>
<ellipse class="dd" cx="1067.1" cy="936.5" rx="3.5" ry="3.25"/>
<ellipse class="dl" cx="1075.2" cy="935.9" rx="3.5" ry="3.25"/>
<ellipse class="dd" cx="1080.2" cy="940.3" rx="3.5" ry="3.25"/>
<ellipse class="dl" cx="1092.1" cy="949.7" rx="3.5" ry="3.25"/>
<ellipse class="dl" cx="1104" cy="929" rx="3.5" ry="3.25"/>
<ellipse class="dd" cx="1107.8" cy="932.7" rx="3.5" ry="3.25"/>
<ellipse class="dl" cx="1117.8" cy="928.7" rx="3.5" ry="3.25"/>
<ellipse class="dd" cx="1115.9" cy="934.6" rx="3.5" ry="3.25"/>
<ellipse class="dd" cx="1112.8" cy="937.1" rx="3.5" ry="3.25"/>
<ellipse class="dl" cx="1137.9" cy="907.1" rx="3.5" ry="3.25"/>
<ellipse class="dm" cx="1140.4" cy="910.2" rx="3.5" ry="3.25"/>
<ellipse class="dd" cx="1142" cy="913.3" rx="3.5" ry="3.25"/>
<ellipse class="dl" cx="1139.1" cy="925" rx="3.5" ry="3.25"/>
<ellipse class="dl" cx="1146.6" cy="925.2" rx="3.5" ry="3.25"/>
<ellipse class="dd" cx="1142" cy="937.4" rx="3.5" ry="3.25"/>
<ellipse class="dl" cx="1147.6" cy="871" rx="3.5" ry="3.25"/>
<ellipse class="dl" cx="1156.7" cy="871" rx="3.5" ry="3.25"/>
<ellipse class="dm" cx="1151" cy="892.6" rx="3.5" ry="3.25"/>
<ellipse class="dl" cx="1161.7" cy="903.3" rx="3.5" ry="3.25"/>
<ellipse class="dd" cx="1151.7" cy="944.9" rx="3.5" ry="3.25"/>
<ellipse class="dd" cx="1158.3" cy="945.3" rx="3.5" ry="3.25"/>
<ellipse class="dd" cx="1169.8" cy="943.8" rx="3.5" ry="3.25"/>
<ellipse class="dd" cx="1175.8" cy="945.3" rx="3.5" ry="3.25"/>
<ellipse class="dm" cx="1174.2" cy="859.4" rx="3.5" ry="3.25"/>
<ellipse class="dm" cx="1184.6" cy="859.4" rx="3.5" ry="3.25"/>
<ellipse class="dl" cx="1172.3" cy="906.7" rx="3.5" ry="3.25"/>
<ellipse class="dm" cx="1176.1" cy="910.2" rx="3.5" ry="3.25"/>
<ellipse class="dl" cx="1173" cy="918.1" rx="3.5" ry="3.25"/>
<ellipse class="dm" cx="1187.4" cy="903.9" rx="3.5" ry="3.25"/>
<ellipse class="dl" cx="1193.6" cy="907.3" rx="3.5" ry="3.25"/>
<ellipse class="dd" cx="1175.5" cy="927.1" rx="3.5" ry="3.25"/>
<ellipse class="dl" cx="1177.6" cy="928" rx="3.5" ry="3.25"/>
<ellipse class="dl" cx="1178.2" cy="930.5" rx="3.5" ry="3.25"/>
<ellipse class="dd" cx="1190.5" cy="920.2" rx="3.5" ry="3.25"/>
<ellipse class="dd" cx="1194.9" cy="922.1" rx="3.5" ry="3.25"/>
<ellipse class="dm" cx="1187.4" cy="935.6" rx="3.5" ry="3.25"/>
<ellipse class="dl" cx="1196.5" cy="933.4" rx="3.5" ry="3.25"/>
<ellipse class="dd" cx="1190.5" cy="947.4" rx="3.5" ry="3.25"/>
<ellipse class="dl" cx="1184.6" cy="956.3" rx="3.5" ry="3.25"/>
<ellipse class="dd" cx="1189" cy="960.7" rx="3.5" ry="3.25"/>
<ellipse class="dd" cx="1208" cy="883" rx="3.5" ry="3.25"/>
<ellipse class="dm" cx="1209" cy="896.2" rx="3.5" ry="3.25"/>
<ellipse class="dl" cx="1210.8" cy="842.8" rx="3.5" ry="3.25"/>
<ellipse class="dd" cx="1208" cy="912.3" rx="3.5" ry="3.25"/>
<ellipse class="dd" cx="1210.8" cy="921.6" rx="3.5" ry="3.25"/>
<ellipse class="dm" cx="1228.8" cy="885.3" rx="3.5" ry="3.25"/>
<ellipse class="dl" cx="1223" cy="904" rx="3.5" ry="3.25"/>
<ellipse class="dl" cx="1217.9" cy="910.7" rx="3.5" ry="3.25"/>
<ellipse class="dd" cx="1225.8" cy="919.7" rx="3.5" ry="3.25"/>
<ellipse class="dl" cx="1217.3" cy="922.8" rx="3.5" ry="3.25"/>
<ellipse class="dl" cx="1223" cy="923.6" rx="3.5" ry="3.25"/>
<ellipse class="dl" cx="1215.4" cy="929.5" rx="3.5" ry="3.25"/>
<ellipse class="dm" cx="1216.7" cy="937.4" rx="3.5" ry="3.25"/>
<ellipse class="dd" cx="1219.8" cy="954.9" rx="3.5" ry="3.25"/>
<ellipse class="dd" cx="1209.5" cy="967.3" rx="3.5" ry="3.25"/>
<ellipse class="dd" cx="1225.8" cy="977.7" rx="3.5" ry="3.25"/>
<ellipse class="dd" cx="1048.1" cy="983.6" rx="3.5" ry="3.25"/>
<ellipse class="dd" cx="1046.5" cy="998.8" rx="3.5" ry="3.25"/>
</g>
<path d="M965.1 548.1 H1739.4 Q1741.9 548.1 1741.9 550.6 V1020.8" fill="none" stroke="#1c1c1c" stroke-width="1.5" stroke-linejoin="miter"/>
<path d="M966 547.35 V1019.9 H1742.65" fill="none" stroke="#1c1c1c" stroke-width="1.8" stroke-linejoin="miter"/>
<line x1="961.6" y1="569.5" x2="966" y2="569.5" stroke="#1c1c1c" stroke-width="1.2"/>
<text class="tk" x="959.6" y="573.4" text-anchor="end" textLength="26" lengthAdjust="spacingAndGlyphs">250</text>
<line x1="961.6" y1="700" x2="966" y2="700" stroke="#1c1c1c" stroke-width="1.2"/>
<text class="tk" x="959.6" y="704.65" text-anchor="end" textLength="26" lengthAdjust="spacingAndGlyphs">200</text>
<line x1="961.6" y1="830.75" x2="966" y2="830.75" stroke="#1c1c1c" stroke-width="1.2"/>
<text class="tk" x="959.6" y="835.9" text-anchor="end" textLength="26" lengthAdjust="spacingAndGlyphs">150</text>
<line x1="961.6" y1="961.5" x2="966" y2="961.5" stroke="#1c1c1c" stroke-width="1.2"/>
<text class="tk" x="959.6" y="967.15" text-anchor="end" textLength="26" lengthAdjust="spacingAndGlyphs">100</text>
<line x1="1081.5" y1="1019.9" x2="1081.5" y2="1024.3" stroke="#1c1c1c" stroke-width="1.2"/>
<text class="tk" x="1081.5" y="1035.3" text-anchor="middle" font-size="14.3" style="font-size:14.3px" textLength="22.6" lengthAdjust="spacingAndGlyphs">0.5</text>
<line x1="1252" y1="1019.9" x2="1252" y2="1024.3" stroke="#1c1c1c" stroke-width="1.2"/>
<text class="tk" x="1252" y="1035.3" text-anchor="middle" font-size="14.3" style="font-size:14.3px" textLength="22.6" lengthAdjust="spacingAndGlyphs">1.0</text>
<line x1="1422.25" y1="1019.9" x2="1422.25" y2="1024.3" stroke="#1c1c1c" stroke-width="1.2"/>
<text class="tk" x="1422.25" y="1035.3" text-anchor="middle" font-size="14.3" style="font-size:14.3px" textLength="22.6" lengthAdjust="spacingAndGlyphs">1.5</text>
<line x1="1594" y1="1019.9" x2="1594" y2="1024.3" stroke="#1c1c1c" stroke-width="1.2"/>
<text class="tk" x="1594" y="1035.3" text-anchor="middle" font-size="14.3" style="font-size:14.3px" textLength="22.6" lengthAdjust="spacingAndGlyphs">2.0</text>
<text class="pl" x="883.4" y="528.3">D</text>
<text class="bt" x="929" y="556" font-size="16" textLength="33" lengthAdjust="spacingAndGlyphs">(ms)</text>
<text class="bt" x="923.6" y="821.6" font-size="18" textLength="78" lengthAdjust="spacingAndGlyphs" transform="rotate(-90 923.6 821.6)">LC 32VEP</text>
<text class="bt" x="1317" y="1049.7" font-size="16.2" textLength="47" lengthAdjust="spacingAndGlyphs">LC VA</text>
<text class="bt" x="1671.4" y="1035.3" font-size="16.2" textLength="71" lengthAdjust="spacingAndGlyphs">(LogMAR)</text>
<text class="st" x="1610" y="715.5" font-size="16" textLength="68.5" lengthAdjust="spacingAndGlyphs">r = 0.604</text>
<text class="st" x="1606.5" y="737.5" font-size="16" textLength="72" lengthAdjust="spacingAndGlyphs"><tspan font-style="italic">p</tspan> &lt; 0.001</text>
</g>
</svg>
</body></html>
